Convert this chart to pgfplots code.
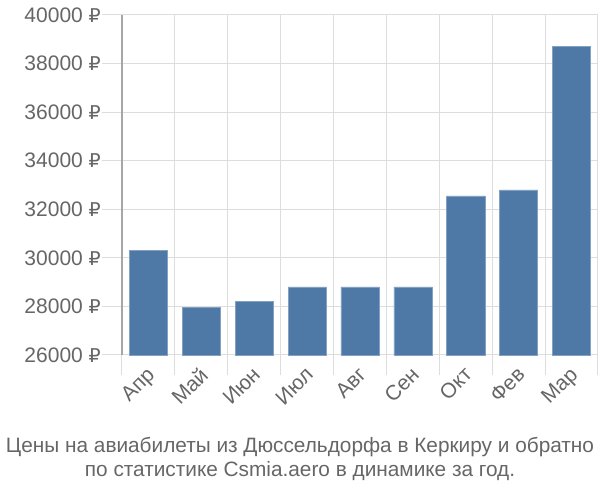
\documentclass[border=0pt]{standalone}
\usepackage{pgfplots}
\pgfplotsset{compat=1.18}
\usepackage{fontspec}
\setmainfont{Liberation Sans}
\newfontfamily\dejavu{DejaVu Sans}
\definecolor{barc}{RGB}{78,121,167}
\definecolor{gridc}{RGB}{221,221,221}
\definecolor{txt}{RGB}{102,102,102}
\begin{document}
\begin{tikzpicture}[x=1pt,y=1pt]
\useasboundingbox (-122,-145) rectangle (478,355);
\begin{axis}[
  at={(0,0)}, anchor=south west,
  scale only axis, width=476pt, height=340pt,
  xmin=-0.5, xmax=8.5, ymin=26000, ymax=40000,
  scaled y ticks=false,
  ytick={26000,28000,...,40000},
  yticklabel={\pgfmathprintnumber[fixed,1000 sep={}]{\tick}~{\dejavu\fontsize{19}{19}\selectfont ₽}},
  /pgf/number format/assume math mode=true,
  xtick={0,...,8},
  xticklabels={Апр,Май,Июн,Июл,Авг,Сен,Окт,Фев,Мар},
  minor xtick={-0.5,0.5,...,8.5},
  xminorgrids, ymajorgrids,
  major x tick style={draw=none},
  minor x tick style={draw=gridc, line width=1pt},
  minor tick length=20pt,
  y tick style={draw=gridc, line width=1pt},
  major tick length=20pt,
  tick align=outside,
  grid style={draw=gridc, line width=1pt},
  axis line style={draw=none},
  axis x line*=bottom, axis y line*=left,
  tick label style={font=\fontsize{21}{21}\selectfont, text=txt},
  xticklabel style={xshift=-3pt, yshift=11pt, rotate=45, anchor=north east, inner sep=1pt},
  yticklabel style={inner sep=1pt},
  clip=false,
]
\addplot[ybar, bar width=0.72, fill=barc, draw=barc!70!white, line width=0.5pt]
  coordinates {(0,30300) (1,27950) (2,28200) (3,28800) (4,28800) (5,28800) (6,32550) (7,32800) (8,38700)};
\draw[black!35, line width=1.5pt] (axis cs:-0.5,26000) -- (axis cs:-0.5,40000);
\end{axis}
\node[text=txt, font=\fontsize{20.8}{24}\selectfont, align=center] at (178,-104)
  {Цены на авиабилеты из Дюссельдорфа в Керкиру и обратно\\по статистике Csmia.aero в динамике за год.};
\end{tikzpicture}
\end{document}
